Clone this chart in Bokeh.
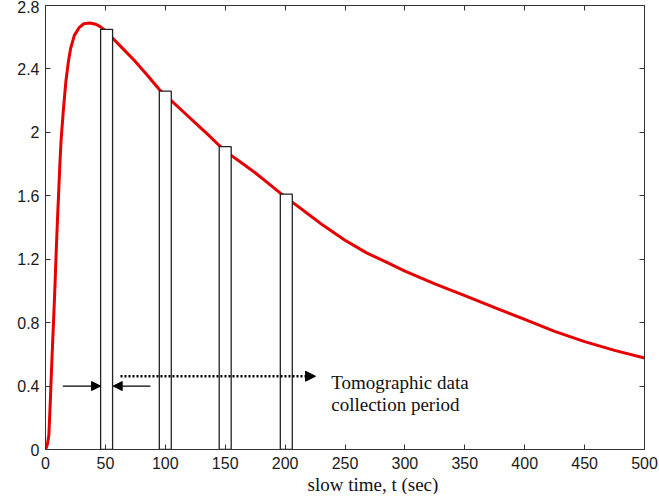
from bokeh.plotting import figure
from bokeh.models import (Range1d, LinearAxis, FixedTicker, CustomJSTickFormatter,
                          Arrow, NormalHead, Title)
from bokeh.core.properties import value
from bokeh.embed import file_html
from bokeh.resources import INLINE

# ---- data ----
t_sec = [0, 1.5, 2.8, 4, 5, 6, 7, 8, 9, 10, 11, 12, 13, 15, 17, 19, 21, 24, 28, 32,
         37, 42, 46, 51, 56.5, 65, 74, 85, 95, 105, 115, 125, 135, 145, 155, 165,
         175, 185, 196, 206, 220, 232, 250, 268, 285, 300, 325, 350, 375, 400,
         425, 450, 475, 500]
signal = [0, 0.03, 0.09, 0.3, 0.5, 0.68, 0.86, 1.05, 1.26, 1.45, 1.62, 1.8, 1.95,
          2.15, 2.32, 2.44, 2.53, 2.61, 2.66, 2.685, 2.69, 2.682, 2.665, 2.635,
          2.59, 2.525, 2.455, 2.36, 2.27, 2.2, 2.13, 2.06, 1.99, 1.917, 1.855, 1.80,
          1.745, 1.685, 1.617, 1.56, 1.48, 1.412, 1.32, 1.24, 1.18, 1.125, 1.045,
          0.97, 0.895, 0.82, 0.745, 0.68, 0.625, 0.577]

bar_left = [46, 95, 145, 196]
bar_right = [56, 105, 155, 206]
bar_top = [2.65, 2.26, 1.91, 1.61]

x_ticks = [0, 50, 100, 150, 200, 250, 300, 350, 400, 450, 500]
y_ticks = [0, 0.4, 0.8, 1.2, 1.6, 2.0, 2.4, 2.8]

# annotation arrows: (x_start, y_start, x_end, y_end)
solid_arrows = [(14.5, 0.4, 46, 0.4), (87.6, 0.4, 56.5, 0.4)]
dotted_arrow = (62.6, 0.462, 225.4, 0.462)
note_x = [238.5, 238.5]
note_y = [0.424, 0.284]
note_text = ["Tomographic data", "collection period"]
x_label = "slow time, t (sec)"

# ---- figure ----
p = figure(frame_width=599, frame_height=444, output_backend="svg",
           toolbar_location=None, x_range=Range1d(0, 500), y_range=Range1d(0, 2.8),
           min_border_left=45, min_border_right=15, min_border_top=5,
           min_border_bottom=0)
p.background_fill_color = "white"
p.border_fill_color = "white"
p.outline_line_color = "#333333"
p.xgrid.visible = False
p.ygrid.visible = False

axis_color = "#333333"

p.xaxis.ticker = FixedTicker(ticks=x_ticks)
p.yaxis.ticker = FixedTicker(ticks=y_ticks)
p.yaxis.formatter = CustomJSTickFormatter(code="return Number(tick.toFixed(1)).toString();")
for ax in (p.xaxis[0], p.yaxis[0]):
    ax.major_tick_in = 5
    ax.major_tick_out = 0
    ax.minor_tick_line_color = None
    ax.axis_line_color = axis_color
    ax.major_tick_line_color = axis_color
    ax.major_label_text_font = "Liberation Sans"
    ax.major_label_text_font_size = "16px"
    ax.major_label_text_color = "#1a1a1a"
p.xaxis.major_label_standoff = 7
p.yaxis.major_label_standoff = 6

# tick-only mirror axes (top and right), no labels
for loc, ticks in (("above", x_ticks), ("right", y_ticks)):
    ax = LinearAxis(ticker=FixedTicker(ticks=ticks), major_tick_in=5, major_tick_out=0,
                    minor_tick_line_color=None, axis_line_color=axis_color,
                    major_tick_line_color=axis_color, major_label_standoff=0)
    ax.major_label_text_font_size = "1px"
    ax.major_label_text_color = None
    ax.formatter = CustomJSTickFormatter(code="return '';")
    p.add_layout(ax, loc)

p.add_layout(Title(text=x_label, align="left", offset=262, text_font="Liberation Serif",
                   text_font_size="19px", text_font_style="normal", text_color="#111111",
                   standoff=0), "below")

# curve
p.line(t_sec, signal, line_color="#e60000", line_width=3)

# bars (drawn over the curve)
p.quad(left=bar_left, right=bar_right, bottom=0, top=bar_top,
       fill_color="white", line_color="#222222", line_width=1.3)

# arrows
for xs, ys, xe, ye in solid_arrows:
    p.add_layout(Arrow(end=NormalHead(size=9, fill_color="black", line_color="black"),
                       x_start=xs, y_start=ys, x_end=xe, y_end=ye,
                       line_color="black", line_width=1.2))
xs, ys, xe, ye = dotted_arrow
p.add_layout(Arrow(end=NormalHead(size=10, fill_color="black", line_color="black"),
                   x_start=xs, y_start=ys, x_end=xe, y_end=ye,
                   line_color="black", line_width=2.5, line_dash="2 2"))

p.text(x=note_x, y=note_y, text=note_text, text_font=value("Liberation Serif"),
       text_font_size="19px", text_baseline="alphabetic", text_color="#111111")

open("out.html", "w").write(file_html(p, INLINE))
